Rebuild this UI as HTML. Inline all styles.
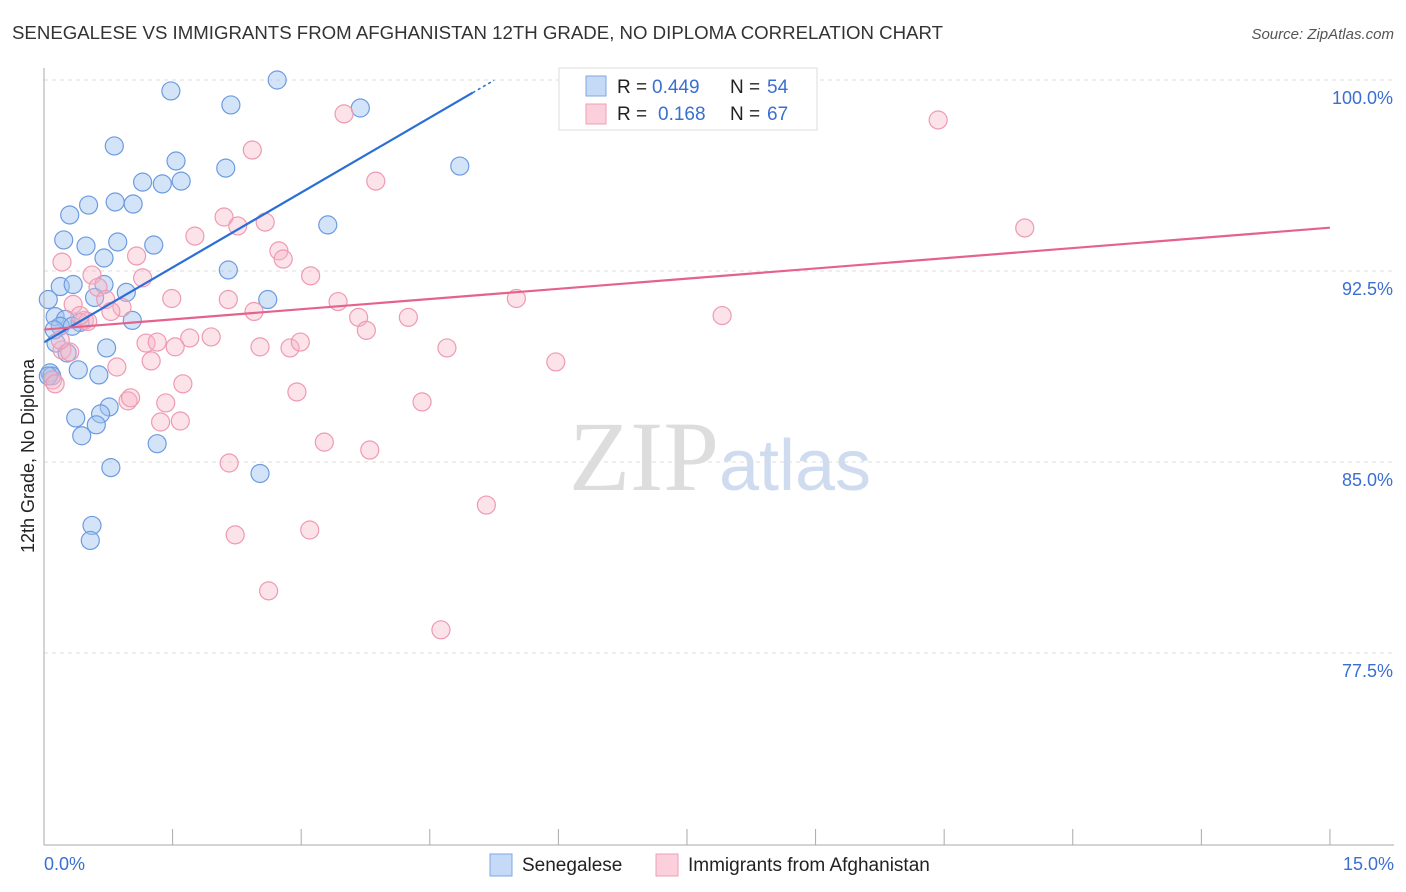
<!DOCTYPE html>
<html><head><meta charset="utf-8"><style>
body{margin:0;background:#fff;font-family:"Liberation Sans",sans-serif;}
svg{display:block}
</style></head><body>
<svg id="c" width="1406" height="892" xmlns="http://www.w3.org/2000/svg">
<text x="12" y="39" font-size="18" fill="#333" textLength="931" lengthAdjust="spacingAndGlyphs">SENEGALESE VS IMMIGRANTS FROM AFGHANISTAN 12TH GRADE, NO DIPLOMA CORRELATION CHART</text>
<text x="1394" y="39" font-size="15" fill="#555" text-anchor="end" font-style="italic">Source: ZipAtlas.com</text>
<text x="720" y="490" font-size="100" fill="#ddd" text-anchor="middle" font-family="Liberation Serif">ZIP<tspan fill="#cfdcf0" font-family="Liberation Sans" font-size="72">atlas</tspan></text>
<g id="grid"></g><g id="pts"></g><g id="lines"></g>
<line x1="44" y1="68" x2="44" y2="845" stroke="#aaa"/>
<line x1="44" y1="845" x2="1394" y2="845" stroke="#aaa"/>
<text transform="translate(34,456) rotate(-90)" font-size="18" fill="#222" text-anchor="middle">12th Grade, No Diploma</text>
<text x="44" y="870" font-size="18" fill="#3a6fd0">0.0%</text>
<text x="1394" y="870" font-size="18" fill="#3a6fd0" text-anchor="end">15.0%</text>
<g>
<rect x="559" y="68" width="258" height="62" fill="#fff" stroke="#ddd"/>
<rect x="586" y="76" width="20" height="20" fill="#c5daf6" stroke="#7fa7e0"/>
<rect x="586" y="104" width="20" height="20" fill="#fbd0dc" stroke="#ef9fb6"/>
<text x="617" y="93" font-size="19" fill="#222">R =</text>
<text x="652" y="93" font-size="19" fill="#3a6fd0">0.449</text>
<text x="730" y="93" font-size="19" fill="#222">N =</text>
<text x="767" y="93" font-size="19" fill="#3a6fd0">54</text>
<text x="617" y="120" font-size="19" fill="#222">R =</text>
<text x="658" y="120" font-size="19" fill="#3a6fd0">0.168</text>
<text x="730" y="120" font-size="19" fill="#222">N =</text>
<text x="767" y="120" font-size="19" fill="#3a6fd0">67</text>
</g>
<g>
<rect x="490" y="854" width="22" height="22" fill="#c5daf6" stroke="#7fa7e0"/>
<text x="522" y="871" font-size="19" fill="#222">Senegalese</text>
<rect x="656" y="854" width="22" height="22" fill="#fbd0dc" stroke="#ef9fb6"/>
<text x="688" y="871" font-size="19" fill="#222">Immigrants from Afghanistan</text>
</g>
</svg>
<script>
const yTicks=[100,92.5,85,77.5];
const yTickLabels=["100.0%","92.5%","85.0%","77.5%"];
const xTicks=[0,1.5,3,4.5,6,7.5,9,10.5,12,13.5,15];
const blueX=[2.72,1.48,2.18,3.69,0.82,1.54,2.12,4.85,1.15,1.38,1.60,0.30,0.52,0.83,1.04,3.31,0.23,0.49,0.86,1.28,0.70,2.15,0.19,0.34,0.70,0.59,0.96,2.61,0.05,0.13,0.25,0.42,1.03,0.19,0.33,0.14,0.27,0.73,0.07,0.40,0.64,0.09,0.76,0.66,0.37,0.61,0.44,1.32,0.78,2.52,0.56,0.54,0.12,0.05];
const blueY=[100,99.57,99.02,98.90,97.41,96.82,96.54,96.62,95.99,95.92,96.03,94.70,95.09,95.21,95.13,94.31,93.72,93.48,93.64,93.52,93.01,92.54,91.89,91.97,91.97,91.46,91.66,91.38,91.38,90.71,90.60,90.48,90.56,90.33,90.33,89.67,89.28,89.48,88.50,88.62,88.42,88.38,87.16,86.89,86.73,86.46,86.03,85.72,84.78,84.55,82.51,81.92,90.19,88.38];
const pinkX=[6.87,3.50,10.43,2.43,3.87,2.10,2.58,2.26,11.44,1.76,2.74,1.08,2.79,0.21,1.15,3.11,0.56,0.63,1.49,2.15,3.43,5.51,2.45,0.34,0.72,0.91,0.78,3.67,4.25,7.91,0.47,3.76,0.51,1.95,1.70,1.19,1.32,2.52,1.53,2.87,2.99,4.70,0.21,0.30,1.25,0.85,5.97,0.10,0.13,1.62,2.95,0.98,1.01,1.42,4.41,1.36,1.59,3.27,3.80,2.16,5.16,3.10,2.23,2.62,4.63,0.42,0.19];
const pinkY=[100,98.67,98.43,97.25,96.03,94.62,94.42,94.27,94.19,93.87,93.29,93.09,92.97,92.85,92.23,92.31,92.34,91.86,91.42,91.38,91.30,91.42,90.91,91.19,91.38,91.07,90.91,90.68,90.68,90.75,90.56,90.17,90.52,89.91,89.87,89.67,89.71,89.52,89.52,89.48,89.71,89.48,89.40,89.32,88.97,88.73,88.93,88.22,88.07,88.07,87.75,87.40,87.52,87.32,87.36,86.57,86.61,85.78,85.47,84.96,83.31,82.33,82.14,79.94,78.41,90.75,89.79];
const blueFit=[0,89.7,5.0,99.5];
const pinkFit=[0,90.2,15,94.2];
const X=v=>44+v*85.73, Y=v=>80+(100-v)*25.467;
const NS="http://www.w3.org/2000/svg";
function mk(p,t,a){const e=document.createElementNS(NS,t);for(const k in a)e.setAttribute(k,a[k]);p.appendChild(e);return e;}
const grid=document.getElementById('grid');
yTicks.forEach((t,i)=>{
 const l=mk(grid,'line',{x1:44,x2:1394,y1:Y(t),y2:Y(t),stroke:'#ddd','stroke-dasharray':'4,4'});
 
 
 const tx=mk(grid,'text',{x:1393,y:Y(t)+24,'font-size':18,fill:'#3a6fd0','text-anchor':'end'});
 tx.textContent=yTickLabels[i];
 
 
});
xTicks.forEach(t=>{
 const l=mk(grid,'line',{x1:X(t),x2:X(t),y1:829,y2:845,stroke:'#aaa'});
 
 
});
const pts=document.getElementById('pts');
blueX.forEach((x,i)=>{
 const c=mk(pts,'circle',{cx:X(x),cy:Y(blueY[i]),r:9,fill:'rgba(160,196,240,0.45)',stroke:'#6d9be0','stroke-width':1.2});
 
 
});
pinkX.forEach((x,i)=>{
 const c=mk(pts,'circle',{cx:X(x),cy:Y(pinkY[i]),r:9,fill:'rgba(248,182,200,0.4)',stroke:'#ee9ab2','stroke-width':1.2});
 
 
});
const lines=document.getElementById('lines');
const bl=mk(lines,'line',{x1:X(blueFit[0]),y1:Y(blueFit[1]),x2:X(blueFit[2]),y2:Y(blueFit[3]),stroke:'#2a6ed6','stroke-width':2.2});


const slope=(blueFit[3]-blueFit[1])/(blueFit[2]-blueFit[0]);
const bd=mk(lines,'line',{x1:X(blueFit[2]),y1:Y(blueFit[3]),x2:X(blueFit[2]+0.25),y2:Y(blueFit[3]+0.25*slope),stroke:'#2a6ed6','stroke-width':1.5,'stroke-dasharray':'3,3'});


const pl=mk(lines,'line',{x1:X(pinkFit[0]),y1:Y(pinkFit[1]),x2:X(pinkFit[2]),y2:Y(pinkFit[3]),stroke:'#e5628c','stroke-width':2.2});


</script>
</body></html>
